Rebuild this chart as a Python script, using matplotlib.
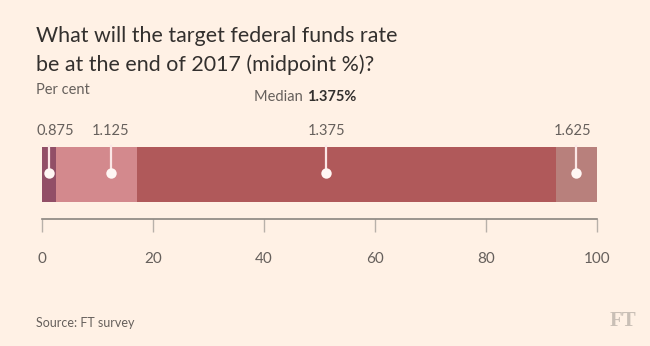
import matplotlib

matplotlib.use("Agg")
import matplotlib.pyplot as plt
import numpy as np

# Share of respondents (%) for each year-end midpoint forecast
rates = ["0.875", "1.125", "1.375", "1.625"]
shares = [2.44, 14.63, 75.61, 7.32]
marker_pos = [1.2, 12.4, 51.2, 96.3]
median_label = "1.375%"
xticks = [0, 20, 40, 60, 80, 100]

colors = ["#924f67", "#d3898d", "#b0595a", "#b8807c"]
bg = "#fff1e5"
ink = "#33302e"
grey = "#66605c"

plt.rcParams["font.family"] = ["Lato", "DejaVu Sans"]

fig = plt.figure(figsize=(6.5, 3.46), dpi=100, facecolor=bg)
W, H = 650, 346


def px(x, y):
    return x / W, 1 - y / H


# axes spans the bar plus the gap down to the baseline
left, right, top, base = 42, 597, 147, 219
ax = fig.add_axes([left / W, 1 - base / H, (right - left) / W, (base - top) / H])
ax.set_facecolor(bg)
ax.set_xlim(0, 100)
ax.set_ylim(0, base - top)

bar_h = 55
lefts = np.concatenate([[0], np.cumsum(shares)[:-1]])
ax.barh(base - top - bar_h / 2, shares, left=lefts, height=bar_h, color=colors, linewidth=0)

# the first label is nudged right so it stays clear of the plot edge
label_shift = [4.5, 0, 0, -3]
for rate, pos, dx in zip(rates, marker_pos, label_shift):
    y_dot = base - top - 26
    ax.plot([pos, pos], [y_dot, base - top + 1], color="#fbe7e6", lw=1.6, clip_on=False, zorder=3)
    ax.plot(pos, y_dot, "o", ms=7.5, color="#fff7f4", mec="none", zorder=4)
    ax.annotate(rate, (pos, base - top + 16), xytext=(dx, 0), textcoords="offset points",
                ha="center", va="center", fontsize=10.5, color=grey, annotation_clip=False)

for s in ["top", "right", "left"]:
    ax.spines[s].set_visible(False)
ax.spines["bottom"].set_color("#8a8580")
ax.spines["bottom"].set_linewidth(1.2)
ax.set_yticks([])
ax.set_xticks(xticks)
ax.tick_params(axis="x", direction="out", length=9, width=1, color="#b8b1aa", pad=15,
               labelsize=11, labelcolor=grey)

fig.text(*px(36, 36), "What will the target federal funds rate", fontsize=15.4, color=ink, va="center")
fig.text(*px(36, 65), "be at the end of 2017 (midpoint %)?", fontsize=15.4, color=ink, va="center")
fig.text(*px(36, 90), "Per cent", fontsize=10.5, color=grey, va="center")
fig.text(*px(307, 97), "Median ", fontsize=10.5, color=grey, va="center", ha="right")
fig.text(*px(307, 97), median_label, fontsize=10.5, color=ink, va="center", ha="left", fontweight="bold")
fig.text(*px(36, 323), "Source: FT survey", fontsize=9, color=grey, va="center")
fig.text(*px(636, 321), "FT", fontsize=15, color="#c9bfb6", va="center", ha="right",
         family=["Liberation Serif", "DejaVu Serif"], fontweight="bold")

fig.savefig("out.png", dpi=100, facecolor=bg)
